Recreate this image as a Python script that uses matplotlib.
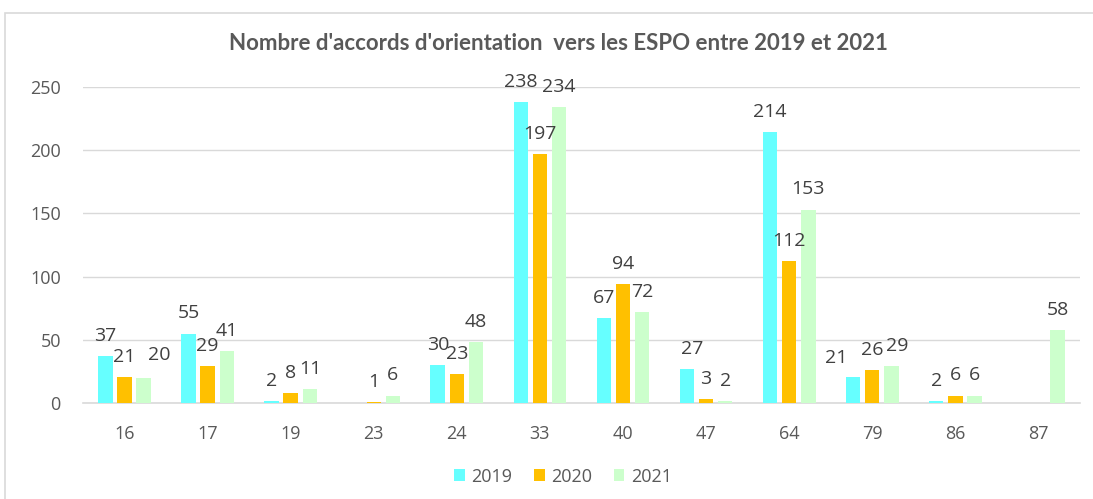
import numpy as np
import matplotlib
matplotlib.use("Agg")
import matplotlib.pyplot as plt
from matplotlib.patches import Rectangle

categories = ["16", "17", "19", "23", "24", "33", "40", "47", "64", "79", "86", "87"]
v2019 = [37, 55, 2, np.nan, 30, 238, 67, 27, 214, 21, 2, np.nan]
v2020 = [21, 29, 8, 1, 23, 197, 94, 3, 112, 26, 6, np.nan]
v2021 = [20, 41, 11, 6, 48, 234, 72, 2, 153, 29, 6, 58]
series = ["2019", "2020", "2021"]
colors = ["#66FFFF", "#FFC000", "#CCFFCC"]

# manual label nudges (pixels) as placed in the original chart: (series, category) -> (dx, dy)
label_nudge = {(2, 0): (16, 3), (0, 9): (-17, -1), (2, 9): (6, 0), (0, 7): (5, 0)}

plt.rcParams['font.family'] = ['Open Sans', 'DejaVu Sans']

fig = plt.figure(figsize=(10.93, 4.99), dpi=100)
ax = fig.add_axes([0.076, 0.192, 0.912, 0.634])

x = np.arange(len(categories))
w = 0.175
offs = [-0.23, 0.0, 0.23]
px2pt = 72 / 100
for si, (vals, off, col, name) in enumerate(zip([v2019, v2020, v2021], offs, colors, series)):
    ax.bar(x + off, vals, width=w, color=col, label=name, zorder=3)
    for ci, (xi, v) in enumerate(zip(x, vals)):
        if not np.isnan(v):
            dx, dy = label_nudge.get((si, ci), (0, 0))
            ax.annotate(f"{int(v)}", (xi + off, v),
                        xytext=(dx * px2pt, 8 + dy * px2pt),
                        textcoords='offset points', ha='center', va='bottom',
                        fontsize=14, color='#404040', zorder=4)

ax.set_xlim(-0.5, len(categories) - 0.5)
ax.set_ylim(0, 250)
ax.set_yticks([0, 50, 100, 150, 200, 250])
ax.set_xticks(x)
ax.set_xticklabels(categories)
ax.yaxis.grid(True, color='#D9D9D9', linewidth=1, zorder=0)
ax.set_axisbelow(True)
for s in ['top', 'right', 'left']:
    ax.spines[s].set_visible(False)
ax.spines['bottom'].set_color('#D9D9D9')
ax.spines['bottom'].set_linewidth(1.2)
ax.tick_params(axis='both', length=0, labelsize=13, colors='#595959')
ax.tick_params(axis='x', pad=16)
ax.tick_params(axis='y', pad=16)

fig.text(0.511, 0.912, "Nombre d'accords d'orientation  vers les ESPO entre 2019 et 2021",
         ha='center', va='center', fontsize=16, fontweight='bold', color='#595959',
         family=['Lato', 'DejaVu Sans'])

leg = fig.legend(loc='center', bbox_to_anchor=(0.515, 0.045), ncol=3, frameon=False,
                 fontsize=13, handlelength=0.6, handleheight=0.6, columnspacing=1.2,
                 handletextpad=0.35)
for t in leg.get_texts():
    t.set_color('#595959')

# outer chart border
fig.patches.append(Rectangle((5 / 1093, -0.01), 1.1, 1 - 13 / 499 + 0.01,
                             transform=fig.transFigure, fill=False,
                             edgecolor='#D9D9D9', linewidth=1.2))

fig.savefig("out.png", dpi=100)
